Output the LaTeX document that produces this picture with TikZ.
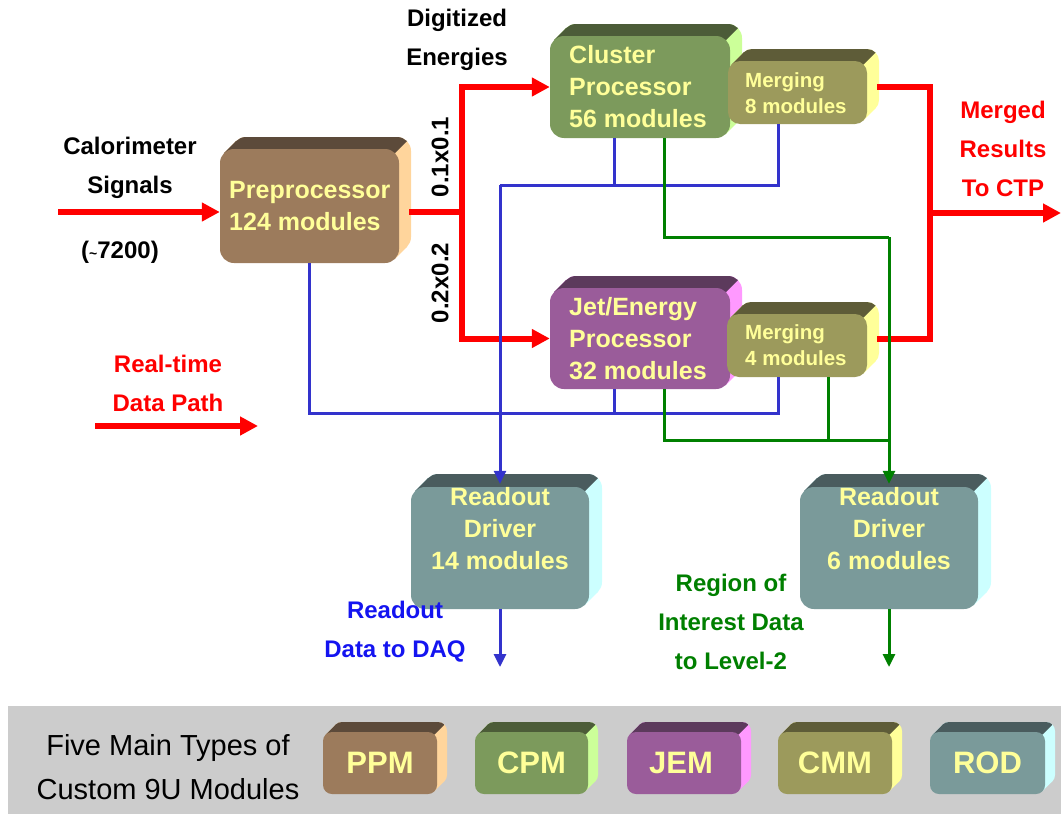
\documentclass[tikz,border=0pt]{standalone}
\usepackage{fontspec}
\setmainfont{Liberation Sans}
\usetikzlibrary{arrows.meta,calc,fit}
\definecolor{ppmF}{HTML}{9C7B5C}\definecolor{ppmT}{HTML}{5C4A3A}\definecolor{ppmS}{HTML}{FFD59C}
\definecolor{cpmF}{HTML}{7C9A5C}\definecolor{cpmT}{HTML}{4C5C38}\definecolor{cpmS}{HTML}{CCFF99}
\definecolor{jemF}{HTML}{9A5C9A}\definecolor{jemT}{HTML}{5C3A5C}\definecolor{jemS}{HTML}{FF99FF}
\definecolor{cmmF}{HTML}{9C9A5C}\definecolor{cmmT}{HTML}{5E5C38}\definecolor{cmmS}{HTML}{FFFF99}
\definecolor{rodF}{HTML}{7A9A9A}\definecolor{rodT}{HTML}{4A5C5E}\definecolor{rodS}{HTML}{CCFFFF}
\definecolor{txty}{HTML}{FFFF99}
\definecolor{redc}{HTML}{FF0000}
\definecolor{bluec}{HTML}{3333CC}
\definecolor{bluet}{HTML}{1414F0}
\definecolor{greenc}{HTML}{008000}
\definecolor{greent}{HTML}{007F00}
\definecolor{legbg}{HTML}{CCCCCC}
% faces of an extruded rounded box: #1 x1 #2 y1 #3 x2 #4 y2 #5 depth #6 radius #7 colour
\newcommand{\modfaces}[7]{%
  \pgfmathsetmacro\mk{0.293*#6}%
  \fill[#7, rounded corners=#6pt] (#1+#5,#2-#5) rectangle (#3+#5,#4-#5);
  \fill[#7] (#1+\mk,#2+\mk) -- (#1+\mk+#5,#2+\mk-#5) -- (#3-\mk+#5,#4-\mk-#5) -- (#3-\mk,#4-\mk) -- cycle;
}
% #1 name #2 x1 #3 y1 #4 x2 #5 y2 #6 depth #7 radius #8 colour prefix
\newcommand{\modbox}[8]{%
  \modfaces{#2}{#3}{#4}{#5}{#6}{#7}{#8S}
  \begin{scope}
    \pgfmathsetmacro\mk{0.293*#7}%
    \clip (#2-30,#3+\mk) -- (#2-30,#3-#6-40) -- (#4+#6+40,#3-#6-40) -- (#4-\mk,#3+\mk) -- cycle;
    \modfaces{#2}{#3}{#4}{#5}{#6}{#7}{#8T}
  \end{scope}
  \node[fit={(#2,#3) (#4,#5)}, inner sep=0pt, rounded corners=#7pt, fill=#8F] (#1) {};
}
\tikzset{
  redline/.style={line width=6pt, draw=redc},
  redarrow/.style={redline, -{Triangle[length=18pt,width=18pt]}},
  blueline/.style={line width=3pt, draw=bluec},
  bluearrow/.style={blueline, -{Triangle[length=13pt,width=12pt]}},
  greenline/.style={line width=3pt, draw=greenc},
  greenarrow/.style={greenline, -{Triangle[length=13pt,width=12pt]}},
  boxtext/.style={text=txty, font=\fontsize{25}{32}\selectfont\bfseries, align=left, inner sep=0pt},
  mergetext/.style={text=txty, font=\fontsize{20.5}{26}\selectfont\bfseries, align=left, inner sep=0pt},
  legtext/.style={text=txty, font=\fontsize{31}{31}\selectfont\bfseries, inner sep=0pt},
  lbl/.style={font=\fontsize{24}{39}\selectfont\bfseries, align=center, inner sep=0pt},
}
\begin{document}
\begin{tikzpicture}[x=1pt,y=-1pt]
\useasboundingbox (0,0) rectangle (1061,814);
% legend background
\fill[legbg] (8,706) rectangle (1061,814);

% main boxes
\modbox{pre}{220}{149}{399}{263}{12}{14}{ppm}
\modbox{cp}{550}{36}{730}{138}{12}{14}{cpm}
\modbox{m8}{728}{61}{867}{124}{12}{12}{cmm}
\modbox{jp}{550}{288}{730}{389}{12}{14}{jem}
\modbox{m4}{727}{314}{867}{377}{12}{12}{cmm}
\modbox{rod1}{411}{487}{589}{609}{13}{14}{rod}
\modbox{rod2}{800}{487}{978}{609}{13}{14}{rod}

\node[boxtext, anchor=west] (preT) at (229,206) {Preprocessor\\124 modules};
\node[boxtext, anchor=west] (cpT) at (569,87) {Cluster\\Processor\\56 modules};
\node[boxtext, anchor=west] (jpT) at (569,339) {Jet/Energy\\Processor\\32 modules};
\node[mergetext, anchor=west] (m8T) at (745,93) {Merging\\8 modules};
\node[mergetext, anchor=west] (m4T) at (745,345) {Merging\\4 modules};
\node[boxtext, align=center] (r1T) at (500,529) {Readout\\Driver\\14 modules};
\node[boxtext, align=center] (r2T) at (889,529) {Readout\\Driver\\6 modules};

% labels
\node[lbl] (dig) at (457,40) {Digitized\\Energies};
\node[lbl] (cal) at (130,168) {Calorimeter\\Signals};
\node[lbl] (n7200) at (120,252) {({\fontsize{14}{14}\selectfont\textasciitilde}7200)};
\node[lbl, rotate=90] (g11) at (440,157) {0.1x0.1};
\node[lbl, rotate=90] (g22) at (440,283) {0.2x0.2};
\node[lbl, text=redc] (mrg) at (1003,149) {Merged\\Results\\To CTP};
\node[lbl, text=redc] (rt) at (168,383) {Real-time\\Data Path};
\node[lbl, text=bluet] (daqT) at (395,632) {Readout\\Data to DAQ};
\node[lbl, text=greent] (roiT) at (731,622) {Region of\\Interest Data\\to Level-2};

% red real-time path
\coordinate (calin) at (58,212);
\draw[redarrow] (calin) -- (calin -| pre.west);
\coordinate (sp1) at (462,212);
\draw[redline] ($(sp1 -| pre.east)+(10,0)$) -- (sp1);
\draw[redarrow] (sp1) |- (cp.west);
\draw[redarrow] (sp1) |- (jp.west);
\coordinate (sp2) at (930,213);
\draw[redline] ($(cp.west -| m8.east)+(10,0)$) -| (sp2);
\draw[redline] ($(jp.west -| m4.east)+(10,0)$) -| (sp2);
\coordinate (ctp) at (1061,213);
\draw[redarrow] (sp2) -- (ctp);
\coordinate (rtA) at (95,426);
\coordinate (rtB) at (258,426);
\draw[redarrow] (rtA) -- (rtB);

% blue readout paths
\coordinate (bA) at (778,413);
\draw[blueline] (pre.south) |- (bA) -- (bA |- m4.south);
\coordinate (bB) at (614,413);
\draw[blueline] (bB |- jp.south) -- (bB);
\coordinate (bC) at (778,185);
\coordinate (bD) at (500,185);
\draw[blueline] (bC |- m8.south) -- (bC) -- (bD);
\coordinate (bE) at (614,185);
\draw[blueline] (bE |- cp.south) -- (bE);
\draw[bluearrow] (bD) -- ($(rod1.north)+(0,-3)$);
\coordinate (daq) at (500,667);
\draw[bluearrow] (rod1.south) -- (daq);

% green RoI paths
\coordinate (gA) at (664,237);
\coordinate (gB) at (889,237);
\draw[greenline] (gA |- cp.south) -- (gA) -- (gB);
\draw[greenarrow] (gB) -- ($(rod2.north)+(0,-3)$);
\coordinate (gC) at (664,440);
\coordinate (gD) at (889,440);
\coordinate (gE) at (828,440);
\draw[greenline] (gC |- jp.south) -- (gC) -- (gD);
\draw[greenline] (gE |- m4.south) -- (gE);
\coordinate (roi) at (889,667);
\draw[greenarrow] (rod2.south) -- (roi);

% legend
\node[font=\fontsize{29}{44}\selectfont, align=center, inner sep=0pt] (legT) at (168,767) {Five Main Types of\\Custom 9U Modules};
\modbox{ppm}{323}{732}{437}{794}{10}{9}{ppm}
\modbox{cpm}{475}{732}{588}{794}{10}{9}{cpm}
\modbox{jem}{627}{732}{741}{794}{10}{9}{jem}
\modbox{cmm}{778}{732}{892}{794}{10}{9}{cmm}
\modbox{rod}{930}{732}{1045}{794}{10}{9}{rod}
\node[legtext] (ppmT) at (ppm) {PPM};
\node[legtext] (cpmT) at (cpm) {CPM};
\node[legtext] (jemT) at ([xshift=-3pt]jem.center) {JEM};
\node[legtext] (cmmT) at (cmm) {CMM};
\node[legtext] (rodT) at (rod) {ROD};
\end{tikzpicture}
\end{document}
